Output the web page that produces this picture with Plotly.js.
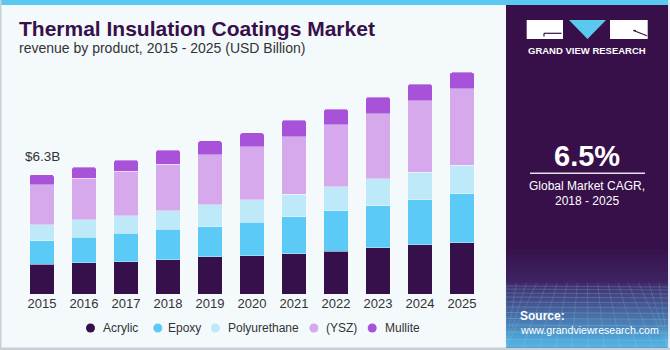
<!DOCTYPE html>
<html><head><meta charset="utf-8">
<script src="https://cdn.plot.ly/plotly-3.0.1.min.js"></script>
<style>html,body{margin:0;padding:0;background:#f4f9fc;} #chart{width:670px;height:350px;}</style>
</head><body><div id="chart"></div>
<script>
// ---------------- data ----------------
const years = ['2015','2016','2017','2018','2019','2020','2021','2022','2023','2024','2025'];
const seriesNames = ['Acrylic','Epoxy','Polyurethane','(YSZ)','Mullite'];
const acrylic      = [1.56,1.64,1.71,1.80,1.96,2.01,2.13,2.26,2.45,2.59,2.71];
const epoxy        = [1.25,1.35,1.49,1.61,1.60,1.79,1.95,2.14,2.20,2.39,2.58];
const polyurethane = [0.84,0.92,0.92,0.99,1.14,1.18,1.18,1.27,1.42,1.44,1.51];
const ysz          = [2.11,2.19,2.37,2.46,2.64,2.79,3.04,3.25,3.44,3.78,4.02];
const mullite      = [0.54,0.60,0.58,0.74,0.74,0.74,0.88,0.84,0.88,0.88,0.88];
const cagrValue = '6.5%';
const cagrLabel = 'Global Market CAGR,';
const cagrPeriod = '2018 - 2025';
const chartTitle = 'Thermal Insulation Coatings Market';
const chartSubtitle = 'revenue by product, 2015 - 2025 (USD Billion)';
const brandName = 'GRAND VIEW RESEARCH';
const sourceLabel = 'Source:';
const sourceUrl = 'www.grandviewresearch.com';

// ---------------- styling ----------------
const seriesValues = [acrylic, epoxy, polyurethane, ysz, mullite];
const colors = ['#36104a','#5ccaf6','#bde9f9','#d5a9ec','#a752d8'];
const FONT = 'Liberation Sans, Arial, sans-serif';
const TXT = '#333333';

const ML = 21, MR = 187, MT = 60, MB = 56, WW = 670, HH = 350;
const PW = WW - ML - MR, PH = HH - MT - MB;
const px = x => (x - ML) / PW;
const py = y => (HH - MB - y) / PH;

const traces = seriesValues.map((vals, i) => ({
  type: 'bar', x: years, y: vals, name: seriesNames[i],
  marker: {color: colors[i], line: {color: 'rgba(255,255,255,0.35)', width: 1}},
  showlegend: false, hoverinfo: 'x+y+name'
}));

const totals = years.map((_, j) => seriesValues.reduce((s, arr) => s + arr[j], 0));

const shapes = [];
const annotations = [];
function rect(x0, y0, x1, y1, color, extra) {
  shapes.push(Object.assign({type: 'rect', xref: 'paper', yref: 'paper', x0: px(x0), x1: px(x1), y0: py(y1), y1: py(y0),
    fillcolor: color, line: {width: 0}}, extra || {}));
}
function line(x0, y0, x1, y1, color, w, extra) {
  shapes.push(Object.assign({type: 'line', xref: 'paper', yref: 'paper', x0: px(x0), x1: px(x1), y0: py(y0), y1: py(y1),
    line: {color: color, width: w}}, extra || {}));
}
function text(t, x, y, size, color, xanchor, bold) {
  annotations.push({xref: 'paper', yref: 'paper', x: px(x), y: py(y), xanchor: xanchor || 'center', yanchor: 'middle',
    text: t, showarrow: false, font: {family: FONT, size: size, color: color, weight: bold ? 'bold' : 'normal'}});
}
function hexToRgb(h){ return [1,3,5].map(i => parseInt(h.substr(i,2),16)); }
function mix(a, b, t){ const A = hexToRgb(a), B = hexToRgb(b); return 'rgb(' + A.map((v,i)=>Math.round(v + (B[i]-v)*t)).join(',') + ')'; }

// frame
rect(0, 0, 668, 5, '#5bc8f0');
rect(0, 0, 1.5, 350, '#c9d0d5');
rect(0, 347.5, 670, 350, '#c9d0d5');
rect(668, 0, 670, 347.5, '#e6ecf0');
// right panel
rect(506, 5, 668, 347.5, '#37104a');
const g1 = 16;
for (let k = 0; k < g1; k++) {
  const y0 = 245 + k * (283 - 245) / g1, y1 = 245 + (k + 1) * (283 - 245) / g1 + 0.5;
  rect(506, y0, 668, y1, mix('#37104a', '#3e2463', k / (g1 - 1)));
}
const g2 = 32;
for (let k = 0; k < g2; k++) {
  const y0 = 283 + k * (347.5 - 283) / g2, y1 = 283 + (k + 1) * (347.5 - 283) / g2 + 0.5;
  rect(506, y0, 668, Math.min(y1, 347.5), mix('#3f2d6b', '#52b6e6', k / (g2 - 1)));
}
// faint grid texture
const hy = [286, 289, 293, 297, 302, 307, 312.5, 318.5, 325, 332, 339.5];
hy.forEach(y => line(506, y, 668, y + 1, 'rgba(170,215,245,0.28)', 0.8));
for (let k = 0; k <= 16; k++) {
  const xt = 506 + k * 10.2;
  const xb = 587 + (xt - 587) * 1.6;
  line(xt, 283, Math.max(506, Math.min(668, xb)), 347.5, 'rgba(170,215,245,0.22)', 0.8);
}
// logo
rect(526.7, 20, 563, 39, '#ffffff');
line(544, 33.3, 561.5, 33.3, '#37104a', 1.2);
line(544, 33.3, 544, 36.5, '#37104a', 1.2);
shapes.push({type: 'path', xref: 'paper', yref: 'paper',
  path: 'M ' + px(569) + ' ' + py(20) + ' L ' + px(606) + ' ' + py(20) + ' L ' + px(587.5) + ' ' + py(39) + ' Z',
  fillcolor: '#5bc8f0', line: {width: 0}});
rect(610, 20, 647.7, 39, '#ffffff');
line(633.5, 30.5, 647, 35.8, '#37104a', 1.2);
line(633.5, 30.5, 636, 30.5, '#37104a', 1.2);
text(brandName, 587, 51, 9.5, '#ffffff', 'center', true);
// CAGR block
text(cagrValue, 587, 155.5, 29, '#ffffff', 'center', true);
line(530, 173.3, 645, 173.3, '#e6e0ea', 1.5);
text(cagrLabel, 587, 185.5, 12, '#ffffff');
text(cagrPeriod, 587, 201, 12, '#ffffff');
// source
text(sourceLabel, 518, 316, 12, '#ffffff', 'left', true);
text(sourceUrl, 518, 330, 10.6, '#ffffff', 'left');
// titles
text(chartTitle, 17, 28.8, 21, '#37104a', 'left', true);
text(chartSubtitle, 17, 48.5, 14, TXT, 'left');
// first-year total label (category index 0 on the x axis)
annotations.push({x: 0, y: totals[0], xref: 'x', yref: 'y', yanchor: 'middle', yshift: 18,
  text: '$' + totals[0].toFixed(1) + 'B', showarrow: false, font: {family: FONT, size: 13.5, color: TXT}});
// legend (circle markers)
const legCircle = [90.5, 157.8, 215.3, 313.8, 372.2];
const legText = [101, 165.7, 226, 324.3, 383];
seriesNames.forEach((n, i) => {
  shapes.push({type: 'circle', xref: 'paper', yref: 'paper', x0: px(legCircle[i] - 4.5), x1: px(legCircle[i] + 4.5),
    y0: py(328 + 4.5), y1: py(328 - 4.5), fillcolor: colors[i], line: {width: 0}});
  text(n, legText[i], 328, 12, TXT, 'left');
});

const layout = {
  width: WW, height: HH,
  margin: {l: ML, r: MR, t: MT, b: MB, pad: 0},
  paper_bgcolor: '#f4f9fc', plot_bgcolor: '#f4f9fc',
  barmode: 'stack', bargap: 0.42, barcornerradius: 3,
  showlegend: false,
  xaxis: {type: 'category', range: [-0.5, years.length - 0.5], autorange: false, showgrid: false, zeroline: false, showline: false, ticks: '',
    tickfont: {family: FONT, size: 13, color: TXT}, fixedrange: true},
  yaxis: {range: [0, 12.35], autorange: false, visible: false, fixedrange: true},
  shapes: shapes, annotations: annotations
};
Plotly.newPlot('chart', traces, layout, {displayModeBar: false, staticPlot: true});
</script></body></html>
